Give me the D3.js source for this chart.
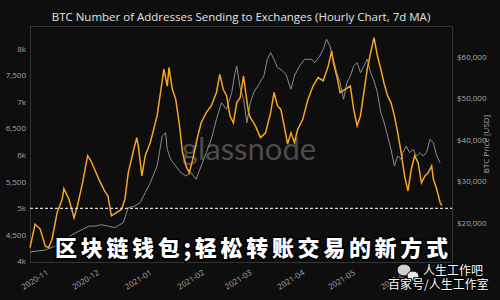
<!DOCTYPE html>
<html lang="en">
<head>
<meta charset="utf-8">
<title>BTC Number of Addresses Sending to Exchanges</title>
<script src="https://cdn.jsdelivr.net/npm/d3@7"></script>
<style>
  body {
    margin: 0;
    padding: 0;
    background: #0e0e0e;
    overflow: hidden;
  }
  .axis-label {
    fill: #a6a6a6;
    font-family: "Open Sans", sans-serif;
    font-size: 8px;
  }
  .title {
    fill: #e2e2e2;
    font-family: "Open Sans", sans-serif;
    font-size: 11.5px;
  }
  .frame {
    fill: none;
    stroke: #333;
    stroke-width: 1px;
  }
  .overlay-cn {
    fill: #fff;
    stroke: #000;
    stroke-width: 3px;
    paint-order: stroke;
    font-family: "Noto Sans CJK SC", sans-serif;
    font-weight: 900;
  }
</style>
</head>
<body>
<script>

// addresses sending to exchanges (7d MA), left axis
var addrDates = ["2020-10-24","2020-10-27","2020-10-30","2020-11-02","2020-11-04","2020-11-06","2020-11-09","2020-11-12","2020-11-13","2020-11-16",
  "2020-11-19","2020-11-21","2020-11-24","2020-11-27","2020-11-29","2020-12-02","2020-12-04","2020-12-07","2020-12-09","2020-12-11",
  "2020-12-14","2020-12-17","2020-12-19","2020-12-21","2020-12-24","2020-12-26","2020-12-27","2020-12-29","2020-12-31","2021-01-03",
  "2021-01-07","2021-01-11","2021-01-13","2021-01-14","2021-01-16","2021-01-18","2021-01-20","2021-01-22","2021-01-24","2021-01-26",
  "2021-01-28","2021-01-31","2021-02-02","2021-02-05","2021-02-08","2021-02-11","2021-02-13","2021-02-15","2021-02-17","2021-02-19",
  "2021-02-21","2021-02-23","2021-02-25","2021-02-27","2021-02-28","2021-03-02","2021-03-03","2021-03-06","2021-03-09","2021-03-12",
  "2021-03-15","2021-03-17","2021-03-19","2021-03-21","2021-03-23","2021-03-25","2021-03-27","2021-03-29","2021-03-31","2021-04-03",
  "2021-04-06","2021-04-09","2021-04-12","2021-04-15","2021-04-18","2021-04-20","2021-04-21","2021-04-23","2021-04-25","2021-04-28",
  "2021-05-01","2021-05-03","2021-05-05","2021-05-07","2021-05-09","2021-05-11","2021-05-13","2021-05-15","2021-05-17","2021-05-19",
  "2021-05-21","2021-05-23","2021-05-25","2021-05-27","2021-05-29","2021-05-31","2021-06-02","2021-06-04","2021-06-06","2021-06-08",
  "2021-06-10","2021-06-12","2021-06-14","2021-06-16","2021-06-18","2021-06-19","2021-06-21","2021-06-23","2021-06-24"];
var addrValues = [4260,4700,4610,4290,4260,4420,4920,5170,5370,5170,
  4820,5050,5480,5990,5890,5670,5520,5330,5230,4860,
  4920,4980,5170,5670,6080,6330,6150,5610,5990,6240,
  6740,7620,7300,7650,7240,7050,6610,6050,5800,5670,
  5920,6360,6610,6800,6930,7180,7520,7240,7120,6740,
  6610,6990,7080,7490,7240,6800,6710,6550,6330,6420,
  6800,7180,6930,6860,6550,6210,6420,6240,6490,6680,
  7050,7300,7460,7400,7680,7960,7740,7490,7180,7240,
  7300,6860,6550,6740,7180,7620,7930,8210,7870,7620,
  7340,7120,6990,6740,6420,6050,5610,5330,5740,5990,
  5860,5480,5610,5670,5800,5550,5360,5110,5050];

// BTC price (USD), right axis
var priceDates = ["2020-10-24","2020-11-02","2020-11-08","2020-11-12","2020-11-20","2020-11-28","2020-12-02","2020-12-05","2020-12-09","2020-12-13",
  "2020-12-18","2020-12-21","2020-12-25","2020-12-28","2020-12-31","2021-01-03","2021-01-07","2021-01-10","2021-01-12","2021-01-13",
  "2021-01-15","2021-01-18","2021-01-21","2021-01-24","2021-01-27","2021-01-30","2021-02-02","2021-02-05","2021-02-08","2021-02-11",
  "2021-02-14","2021-02-17","2021-02-20","2021-02-22","2021-02-23","2021-02-25","2021-02-27","2021-03-01","2021-03-03","2021-03-05",
  "2021-03-08","2021-03-11","2021-03-13","2021-03-15","2021-03-17","2021-03-19","2021-03-21","2021-03-24","2021-03-27","2021-03-29",
  "2021-04-01","2021-04-04","2021-04-08","2021-04-10","2021-04-13","2021-04-15","2021-04-17","2021-04-19","2021-04-21","2021-04-23",
  "2021-04-25","2021-04-27","2021-04-29","2021-05-01","2021-05-03","2021-05-05","2021-05-07","2021-05-09","2021-05-11","2021-05-13",
  "2021-05-15","2021-05-17","2021-05-19","2021-05-21","2021-05-23","2021-05-25","2021-05-27","2021-05-29","2021-05-31","2021-06-01",
  "2021-06-03","2021-06-05","2021-06-07","2021-06-09","2021-06-11","2021-06-13","2021-06-15","2021-06-17","2021-06-19","2021-06-21",
  "2021-06-23"];
var priceValues = [13010,13490,14450,15660,17660,19270,19270,19580,19270,18860,
  20070,23680,24090,24890,27300,29710,33730,40960,41760,37760,
  35350,33730,32120,31320,32120,30530,33730,36940,40170,44990,
  48990,47400,51400,56220,57830,52600,49810,44170,48990,51400,
  53420,55420,59450,61040,59450,57420,57040,55830,52220,55420,
  57830,59450,59450,58630,60240,61860,64270,62650,59450,56220,
  53810,49810,53810,55420,57830,58630,56220,57830,59450,56220,
  54220,51400,46580,44170,40960,37760,33730,36140,35350,36940,
  38550,36940,37760,36140,36940,36140,36940,40170,39350,36140,
  34530];

var monthTicks = ["2020-11","2020-12","2021-01","2021-02","2021-03","2021-04","2021-05","2021-06"];
var leftTicks = [4000,4500,5000,5500,6000,6500,7000,7500,8000];
var rightTicks = [20000,30000,40000,50000,60000];
var thresholdValue = 5000;

var titleText = "BTC Number of Addresses Sending to Exchanges (Hourly Chart, 7d MA)";
var overlayText = "区块链钱包;轻松转账交易的新方式";

var W = 500, H = 300;
var plotL = 30, plotR = 452, plotT = 26, plotB = 262;

var parseDay = d3.timeParse("%Y-%m-%d");
var parseMonth = d3.timeParse("%Y-%m");

var x = d3.scaleTime()
  .domain([parseDay("2020-10-24"), parseDay("2021-06-30")])
  .range([plotL, plotR]);
var yL = d3.scaleLinear().domain([4000, 8430]).range([261.5, plotT]);
var yR = d3.scaleLinear().domain([10720, 67470]).range([261.5, plotT]);

var svg = d3.select('body').append('svg')
  .attr('width', W)
  .attr('height', H)
  .style('background', '#0e0e0e');

svg.append('rect')
  .attr('class', 'frame')
  .attr('x', plotL + 0.5)
  .attr('y', plotT + 0.5)
  .attr('width', plotR - plotL)
  .attr('height', plotB - plotT);

svg.append('text')
  .attr('class', 'title')
  .attr('x', 241)
  .attr('y', 21)
  .attr('text-anchor', 'middle')
  .text(titleText);

// left axis labels
var fmtLeft = function(v) { return v % 1000 === 0 ? (v / 1000) + "k" : d3.format(",")(v); };
svg.selectAll('.lt').data(leftTicks).enter().append('text')
  .attr('class', 'axis-label lt')
  .attr('x', 26)
  .attr('y', function(d) { return yL(d); })
  .attr('dy', '0.35em')
  .attr('text-anchor', 'end')
  .text(fmtLeft);

// right axis labels
svg.selectAll('.rt').data(rightTicks).enter().append('text')
  .attr('class', 'axis-label rt')
  .attr('x', 457)
  .attr('y', function(d) { return yR(d); })
  .attr('dy', '0.35em')
  .text(function(d) { return "$" + d3.format(",")(d); });

svg.append('text')
  .attr('class', 'axis-label')
  .attr('transform', 'translate(489,' + ((plotT + plotB) / 2) + ') rotate(-90)')
  .attr('text-anchor', 'middle')
  .text("BTC Price [USD]");

// x axis labels (rotated)
svg.selectAll('.xt').data(monthTicks).enter().append('text')
  .attr('class', 'axis-label xt')
  .attr('transform', function(d) { return 'translate(' + (x(parseMonth(d)) + 3) + ',270) rotate(-32)'; })
  .attr('text-anchor', 'end')
  .attr('dy', '0.6em')
  .text(function(d) { return d; });

// watermark
svg.append('text')
  .attr('x', 249)
  .attr('y', 160)
  .attr('text-anchor', 'middle')
  .style('font-family', 'Lato, sans-serif')
  .style('font-size', '31px')
  .style('fill', '#5c5c5c')
  .style('opacity', 0.8)
  .text("glassnode");

var priceLine = d3.line()
  .x(function(d, i) { return x(parseDay(priceDates[i])); })
  .y(function(d) { return yR(d); });
var addrLine = d3.line()
  .x(function(d, i) { return x(parseDay(addrDates[i])); })
  .y(function(d) { return yL(d); });

svg.append('path')
  .datum(priceValues)
  .attr('d', priceLine)
  .attr('fill', 'none')
  .attr('stroke', '#8c8c8c')
  .attr('stroke-width', 1);

svg.append('path')
  .datum(addrValues)
  .attr('d', addrLine)
  .attr('fill', 'none')
  .attr('stroke', '#f5a623')
  .attr('stroke-width', 1.5);

// threshold
svg.append('line')
  .attr('x1', plotL)
  .attr('x2', plotR)
  .attr('y1', yL(thresholdValue))
  .attr('y2', yL(thresholdValue))
  .attr('stroke', '#d8d8d8')
  .attr('stroke-width', 1.2)
  .attr('stroke-dasharray', '3,2');

// overlay caption
svg.append('text')
  .attr('class', 'overlay-cn')
  .attr('x', 55)
  .attr('y', 256)
  .attr('textLength', 393)
  .attr('lengthAdjust', 'spacing')
  .style('font-size', '22px')
  .text(overlayText);

// bottom right source mark
var mark = svg.append('g');
mark.append('ellipse').attr('cx', 404).attr('cy', 270).attr('rx', 7).attr('ry', 6)
  .attr('fill', '#d0d0d0').attr('stroke', '#000').attr('stroke-width', 1);
mark.append('ellipse').attr('cx', 413).attr('cy', 276).attr('rx', 6).attr('ry', 5)
  .attr('fill', '#e8e8e8').attr('stroke', '#000').attr('stroke-width', 1);
mark.append('text')
  .attr('x', 423).attr('y', 275)
  .style('font-family', '"Noto Sans CJK SC", sans-serif')
  .style('font-size', '12px')
  .style('fill', '#fff')
  .style('stroke', '#000')
  .style('stroke-width', '2px')
  .style('paint-order', 'stroke')
  .text("人生工作吧");
mark.append('text')
  .attr('x', 388).attr('y', 289)
  .style('font-family', '"Noto Sans CJK SC", sans-serif')
  .style('font-size', '12px')
  .style('fill', '#fff')
  .style('stroke', '#000')
  .style('stroke-width', '2px')
  .style('paint-order', 'stroke')
  .text("百家号/人生工作室");

</script>
</body>
</html>
